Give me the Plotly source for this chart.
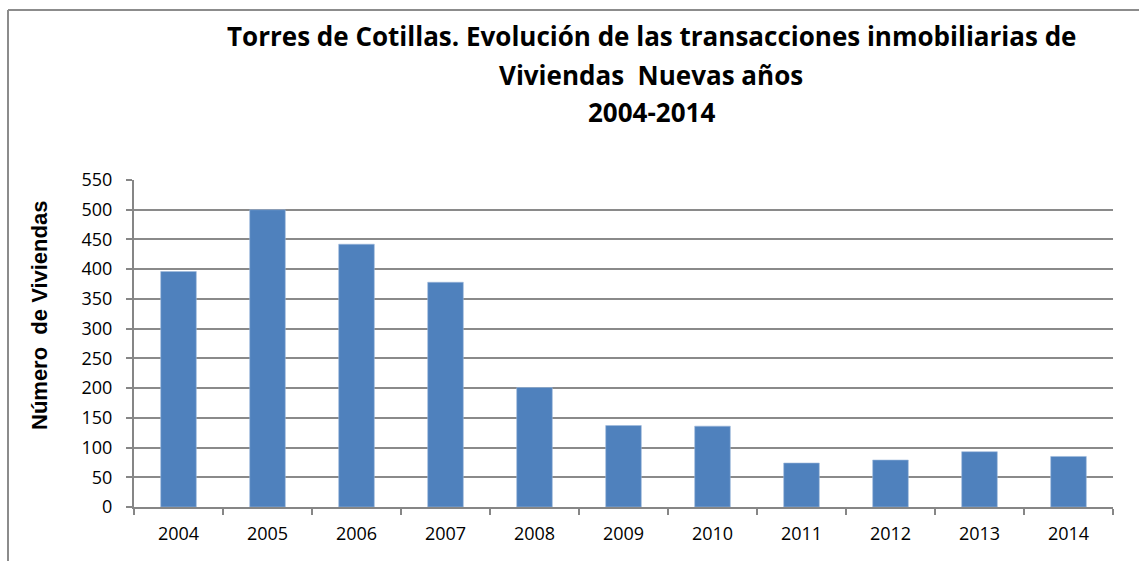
import plotly.graph_objects as go

years = ["2004", "2005", "2006", "2007", "2008", "2009", "2010", "2011", "2012", "2013", "2014"]
viviendas = [396, 500, 442, 378, 201, 137, 136, 74, 79, 93, 85]

title_lines = [
    "Torres de Cotillas. Evolución de las transacciones inmobiliarias de",
    "Viviendas  Nuevas años",
    "2004-2014",
]
y_title = "Número  de Viviendas"

W, H = 1139, 561
L, R, T, B = 134, 26, 180, 54
pw, ph = W - L - R, H - T - B


def px_x(x):
    return (x - L) / pw


def px_y(y):
    return (H - B - y) / ph


fig = go.Figure(
    go.Bar(
        x=years,
        y=viviendas,
        width=0.4,
        marker=dict(color="#4F81BD", line=dict(color="#9DB8DC", width=0.6)),
    )
)

annotations = []
for line, yc in zip(title_lines, [36, 75, 112]):
    annotations.append(dict(
        text="<b>%s</b>" % line, xref="paper", yref="paper",
        x=px_x(651), y=px_y(yc), xanchor="center", yanchor="middle",
        showarrow=False, font=dict(family="Open Sans", size=26, color="#000000"),
    ))
annotations.append(dict(
    text="<b>%s</b>" % y_title, xref="paper", yref="paper",
    x=px_x(39), y=px_y(316), xanchor="center", yanchor="middle", textangle=-90,
    showarrow=False, font=dict(family="Liberation Sans", size=22, color="#000000"),
))

shapes = [
    dict(type="line", xref="paper", yref="paper", x0=px_x(8), x1=px_x(8),
         y0=px_y(10), y1=px_y(561), line=dict(color="#8C8C8C", width=2)),
    dict(type="line", xref="paper", yref="paper", x0=px_x(8), x1=px_x(1139),
         y0=px_y(10), y1=px_y(10), line=dict(color="#8C8C8C", width=2)),
]

fig.update_layout(
    width=W, height=H,
    margin=dict(l=L, r=R, t=T, b=B),
    paper_bgcolor="white", plot_bgcolor="white",
    showlegend=False,
    font=dict(family="Open Sans", size=18, color="#000000"),
    annotations=annotations,
    shapes=shapes,
    bargap=0.6,
)
fig.update_xaxes(
    type="category", showline=True, linecolor="#868686", linewidth=2,
    ticks="outside", tickson="boundaries", ticklen=6, tickcolor="#868686", tickwidth=2,
    showgrid=False, tickfont=dict(size=18), ticklabelstandoff=9,
)
fig.update_yaxes(
    range=[0, 550], dtick=50, showline=True, linecolor="#868686", linewidth=2,
    ticks="outside", ticklen=6, tickcolor="#868686", tickwidth=2,
    showgrid=True, gridcolor="#8A8A8A", gridwidth=1.5, zeroline=False,
    tickfont=dict(size=18), ticklabelstandoff=10,
)

fig.write_html("out.html")
